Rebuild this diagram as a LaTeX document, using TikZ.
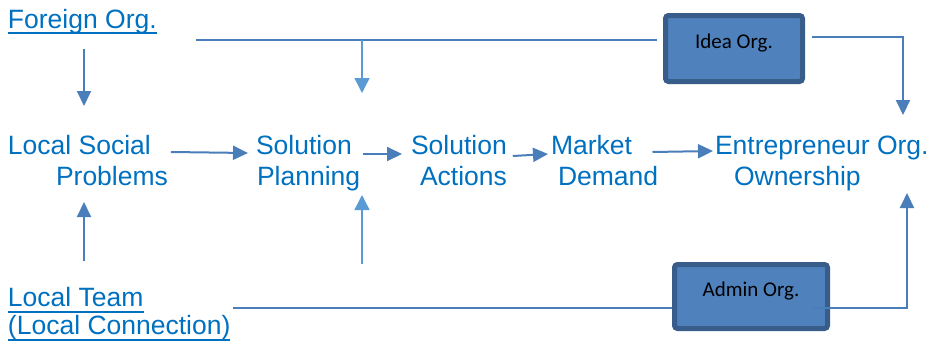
\documentclass[tikz,border=0pt]{standalone}
\usepackage{fontspec}
\setmainfont{Liberation Sans}
\newfontfamily\boxfont{Carlito}
\usetikzlibrary{arrows.meta}
\definecolor{txtblue}{RGB}{0,112,192}
\definecolor{lnblue}{RGB}{74,126,187}
\definecolor{ltblue}{RGB}{91,155,213}
\definecolor{boxfill}{RGB}{79,129,189}
\definecolor{boxdraw}{RGB}{56,93,138}
\newsavebox\ulbox
\newcommand\ulx[3]{\sbox\ulbox{#3}\rlap{\rule[-#1]{\wd\ulbox}{#2}}\usebox\ulbox}
\tikzset{
  txt/.style={inner sep=0pt, outer sep=0pt, anchor=base west,
    font=\fontsize{26.5}{31}\selectfont, text=txtblue},
  orgbox/.style={draw=boxdraw, fill=boxfill, line width=5pt, rounded corners=3pt,
    font=\boxfont\fontsize{21}{25}\selectfont, text=black,
    text height=14pt, text depth=15pt, inner sep=0pt},
  arr/.style={draw=lnblue, line width=2pt, -{Triangle[length=15pt,width=14pt]}},
  larr/.style={draw=ltblue, line width=1.5pt, -{Triangle[length=15pt,width=15pt]}},
  hline/.style={draw=lnblue, line width=2pt},
}
\begin{document}
\begin{tikzpicture}[x=1pt,y=-1pt]
\useasboundingbox (0,0) rectangle (931,343);
% text nodes
\node[txt] (fo) at (8,28.5) {\ulx{5.7pt}{2.2pt}{Foreign Org.}};
\node[txt] (ls1) at (8,154) {Local Social};
\node[txt] (ls2) at (56,185) {Problems};
\node[txt] (sp1) at (256,154) {Solution};
\node[txt] (sp2) at (257,185) {Planning};
\node[txt] (sa1) at (411,154) {Solution};
\node[txt] (sa2) at (420,185) {Actions};
\node[txt] (md1) at (551,154) {Market};
\node[txt] (md2) at (558,185) {Demand};
\node[txt] (eo1) at (715,154) {Entrepreneur Org.};
\node[txt] (eo2) at (734,185) {Ownership};
\node[txt] (lt1) at (8,306.7) {\ulx{5.8pt}{1.9pt}{Local Team}};
\node[txt] (lt2) at (8,334) {\ulx{7.3pt}{2pt}{(Local Connection)}};
% boxes
\node[orgbox, minimum width=137pt, minimum height=66pt] (idea) at (734,48.5) {Idea Org.};
\node[orgbox, minimum width=153pt, minimum height=64pt] (admin) at (751,296.5) {Admin Org.};
% junction points
\coordinate (j1) at (362,40);
\coordinate (b1) at (362,264);
% connectors
\draw[arr] ([shift={(76,20.5)}]fo.base west) -- ([shift={(76,-48)}]ls1.base west);
\draw[arr] ([shift={(76,-45.7)}]lt1.base west) -- ([shift={(28,17)}]ls2.base west);
\draw[arr] ([shift={(20,-2)}]ls1.base east) -- ([shift={(-8,-1)}]sp1.base west);
\draw[arr] ([shift={(11,0)}]sp1.base east) -- ([shift={(-9,0)}]sa1.base west);
\draw[arr] ([shift={(6,2)}]sa1.base east) -- ([shift={(-3,0)}]md1.base west);
\draw[arr] ([shift={(20.5,-2)}]md1.base east) -- ([shift={(-2,-3)}]eo1.base west);
\draw[hline] ([shift={(39,11.5)}]fo.base east) -- ([shift={(-6,-8.5)}]idea.west);
\draw[larr] (j1) -- ([shift={(106,-61)}]sp1.base west);
\draw[larr] (b1) -- ([shift={(105,10)}]sp2.base west);
\draw[arr] ([shift={(7,-11.5)}]idea.east) -| ([shift={(188,-39)}]eo1.base west);
\draw[hline] ([shift={(89,1.3)}]lt1.base east) -- ([shift={(0,11.5)}]admin.west);
\draw[arr] ([shift={(-17,11.5)}]admin.east) -| ([shift={(173,8)}]eo2.base west);
\end{tikzpicture}
\end{document}
